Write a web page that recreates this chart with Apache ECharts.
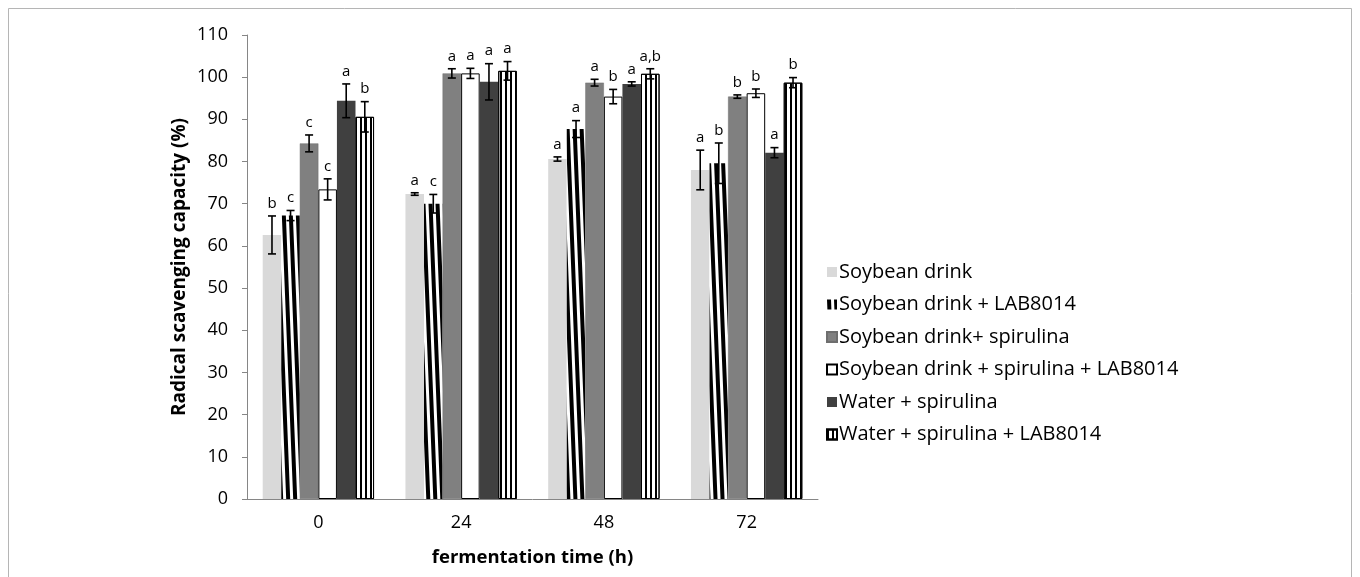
<!DOCTYPE html>
<html>
<head>
<meta charset="utf-8">
<script src="https://cdn.jsdelivr.net/npm/echarts@6/dist/echarts.min.js"></script>
<style>
  html, body { margin: 0; padding: 0; background: #fff; }
  #chart { width: 1360px; height: 577px; }
</style>
</head>
<body>
<div id="chart"></div>
<script>
// fermentation time (h)
const categories = ['0', '24', '48', '72']
const yTicks = [0, 10, 20, 30, 40, 50, 60, 70, 80, 90, 100, 110]

const seriesNames = [
  'Soybean drink',
  'Soybean drink + LAB8014',
  'Soybean drink+ spirulina',
  'Soybean drink + spirulina + LAB8014',
  'Water + spirulina',
  'Water + spirulina + LAB8014',
]

// mean values (%)
const soybean = [62.6, 72.3, 80.6, 78.0]
const soybeanLab = [67.2, 70.0, 87.7, 79.6]
const soybeanSpir = [84.3, 100.9, 98.7, 95.4]
const soybeanSpirLab = [73.4, 100.9, 95.4, 96.2]
const waterSpir = [94.4, 98.9, 98.4, 82.1]
const waterSpirLab = [90.6, 101.5, 100.8, 98.7]

// standard deviations
const soybeanErr = [4.5, 0.3, 0.5, 4.7]
const soybeanLabErr = [1.2, 2.2, 2.0, 4.8]
const soybeanSpirErr = [2.0, 1.1, 0.8, 0.4]
const soybeanSpirLabErr = [2.5, 1.2, 1.7, 1.0]
const waterSpirErr = [4.0, 4.3, 0.5, 1.2]
const waterSpirLabErr = [3.6, 2.2, 1.2, 1.2]

// significance letters
const soybeanSig = ['b', 'a', 'a', 'a']
const soybeanLabSig = ['c', 'c', 'a', 'b']
const soybeanSpirSig = ['c', 'a', 'a', 'b']
const soybeanSpirLabSig = ['c', 'a', 'b', 'b']
const waterSpirSig = ['a', 'a', 'a', 'a']
const waterSpirLabSig = ['b', 'a', 'a,b', 'b']

const values = [soybean, soybeanLab, soybeanSpir, soybeanSpirLab, waterSpir, waterSpirLab]
const errors = [soybeanErr, soybeanLabErr, soybeanSpirErr, soybeanSpirLabErr, waterSpirErr, waterSpirLabErr]
const letters = [soybeanSig, soybeanLabSig, soybeanSpirSig, soybeanSpirLabSig, waterSpirSig, waterSpirLabSig]

const FONT = '"Open Sans", Lato, sans-serif'
const CAT_GAP = 0.22

// 每个系列的填充样式
const barStyles = [
  { color: '#d9d9d9' },
  {
    color: '#fff',
    decal: { symbol: 'rect', symbolSize: 1, color: '#000', dashArrayX: [3.5, 3], dashArrayY: [1, 0], rotation: -0.04 },
  },
  { color: '#808080', borderColor: '#6e6e6e', borderWidth: 0.5 },
  { color: '#fff', borderColor: '#000', borderWidth: 1 },
  { color: '#404040' },
  {
    color: '#fff',
    borderColor: '#000',
    borderWidth: 1,
    decal: { symbol: 'rect', symbolSize: 1, color: '#000', dashArrayX: [2, 2.6], dashArrayY: [1, 0], rotation: 0 },
  },
]

const barSeries = seriesNames.map((name, i) => ({
  name,
  type: 'bar',
  data: values[i],
  barGap: '0%',
  barCategoryGap: CAT_GAP * 100 + '%',
  itemStyle: barStyles[i],
  emphasis: { disabled: true },
}))

// 误差线 + 显著性字母
const errorSeries = seriesNames.map((name, i) => ({
  type: 'custom',
  z: 5,
  silent: true,
  data: values[i].map((v, k) => [k, v, errors[i][k]]),
  renderItem: (params, api) => {
    const c = api.value(0)
    const v = api.value(1)
    const e = api.value(2)
    const band = api.size([1, 0])[0]
    const bw = (band * (1 - CAT_GAP)) / seriesNames.length
    const x = api.coord([c, v])[0] + (i - 2.5) * bw
    const yTop = api.coord([c, v + e])[1]
    const yBot = api.coord([c, v - e])[1]
    const cap = 4
    const st = { stroke: '#000', lineWidth: 1.6 }
    return {
      type: 'group',
      children: [
        { type: 'line', shape: { x1: x, y1: yTop, x2: x, y2: yBot }, style: st },
        { type: 'line', shape: { x1: x - cap, y1: yTop, x2: x + cap, y2: yTop }, style: st },
        { type: 'line', shape: { x1: x - cap, y1: yBot, x2: x + cap, y2: yBot }, style: st },
        {
          type: 'text',
          style: {
            x: x,
            y: yTop - 5,
            text: letters[i][params.dataIndex],
            fill: '#000',
            font: '15px ' + FONT,
            align: 'center',
            verticalAlign: 'bottom',
          },
        },
      ],
    }
  },
}))

const chart = echarts.init(document.getElementById('chart'))

chart.setOption({
  animation: false,
  backgroundColor: '#fff',
  textStyle: { fontFamily: FONT },
  graphic: [
    {
      type: 'rect',
      shape: { x: 8.5, y: 8.5, width: 1343, height: 600 },
      style: { fill: 'none', stroke: '#b5b5b5', lineWidth: 1 },
      silent: true,
    },
  ],
  grid: { left: 247, right: 542, top: 35, bottom: 78 },
  legend: {
    orient: 'vertical',
    left: 821,
    top: 256,
    itemWidth: 10,
    itemHeight: 10,
    itemGap: 10.5,
    icon: 'rect',
    data: seriesNames,
    textStyle: { fontSize: 20, color: '#000', fontFamily: FONT, lineHeight: 22, padding: [0, 0, 0, -3] },
    selectedMode: false,
  },
  xAxis: {
    type: 'category',
    data: categories,
    name: 'fermentation time (h)',
    nameLocation: 'middle',
    nameGap: 49,
    nameTextStyle: { fontSize: 18.5, fontWeight: 'bold', color: '#000', fontFamily: FONT },
    axisLine: { lineStyle: { color: '#868686', width: 1 } },
    axisTick: { length: 5, lineStyle: { color: '#868686' } },
    axisLabel: { fontSize: 18, color: '#000', margin: 15 },
  },
  yAxis: {
    type: 'value',
    min: yTicks[0],
    max: yTicks[yTicks.length - 1],
    interval: 10,
    name: 'Radical scavenging capacity (%)',
    nameLocation: 'middle',
    nameGap: 58,
    nameTextStyle: { fontSize: 19, fontWeight: 'bold', color: '#000', fontFamily: FONT },
    axisLine: { show: true, lineStyle: { color: '#868686', width: 1 } },
    axisTick: { show: true, length: 5, lineStyle: { color: '#868686' } },
    axisLabel: { fontSize: 18, color: '#000', margin: 19 },
    splitLine: { show: false },
  },
  series: [...barSeries, ...errorSeries],
})
</script>
</body>
</html>
